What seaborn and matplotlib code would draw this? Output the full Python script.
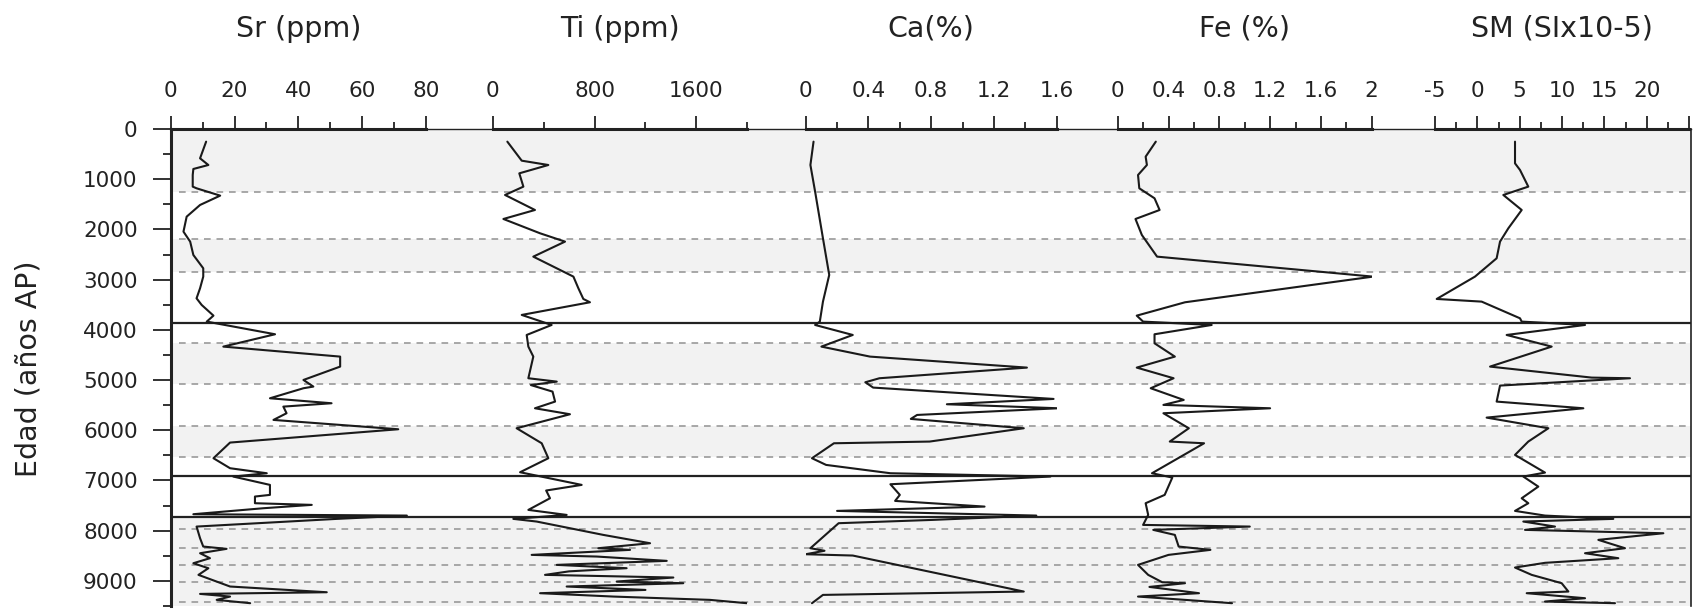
import numpy as np
import pandas as pd
import matplotlib
matplotlib.use("Agg")
import matplotlib.pyplot as plt
from matplotlib.ticker import MultipleLocator, FixedLocator
import seaborn as sns

# ---------------- data ----------------
titles = ["Sr (ppm)", "Ti (ppm)", "Ca(%)", "Fe (%)", "SM (SIx10-5)"]

sr_age = [252, 584, 717, 796, 916, 1148, 1181, 1327, 1513, 1746, 2044, 2243, 2509, 2774, 2940,
          3172, 3372, 3504, 3717, 3836, 4088, 4334, 4533, 4732, 4998, 5130, 5163, 5363, 5462,
          5529, 5661, 5794, 5980, 6245, 6557, 6756, 6856, 6922, 7088, 7287, 7320, 7453, 7486,
          7553, 7672, 7699, 7765, 7918, 8150, 8316, 8362, 8449, 8548, 8648, 8748, 8880, 9112,
          9226, 9259, 9312, 9378, 9444]
sr_val = [11.1, 9.2, 11.8, 7.1, 6.9, 6.9, 8.1, 15.5, 9.2, 5.0, 4.0, 6.1, 7.1, 10.2, 10.2,
          9.2, 8.1, 9.7, 13.4, 11.3, 32.7, 16.5, 53.1, 53.1, 41.6, 44.7, 41.6, 31.1, 50.4,
          35.3, 36.3, 32.2, 71.3, 18.6, 13.4, 18.6, 30.1, 19.6, 31.1, 31.1, 26.4, 26.4, 44.2,
          29.0, 7.1, 74.0, 52.0, 8.1, 9.2, 10.2, 17.5, 9.2, 12.3, 7.1, 11.8, 8.7, 18.6,
          48.9, 9.2, 18.6, 14.4, 24.9]

ti_age = [252, 631, 717, 883, 1148, 1314, 1613, 1792, 2077, 2243, 2542, 2940, 3172, 3385, 3451,
          3703, 3903, 4102, 4334, 4533, 4964, 5031, 5100, 5230, 5429, 5562, 5681, 5960, 6259,
          6557, 6836, 7088, 7200, 7354, 7586, 7686, 7765, 7818, 8084, 8250, 8349, 8382, 8482,
          8515, 8601, 8681, 8747, 8810, 8880, 8933, 9013, 9046, 9112, 9180, 9245, 9312, 9378,
          9444]
ti_val = [115, 228, 437, 209, 241, 97, 332, 84, 372, 568, 319, 634, 673, 712, 764,
          228, 463, 267, 280, 319, 280, 503, 300, 470, 490, 332, 607, 188, 385,
          437, 215, 699, 420, 450, 280, 581, 162, 345, 869, 1236, 830, 1079, 306,
          817, 1367, 503, 1052, 600, 411, 1419, 974, 1497, 581, 1200, 372, 948, 1707,
          1995]

ca_age = [252, 717, 1248, 2177, 2907, 3438, 3836, 3903, 4102, 4334, 4533, 4752, 4964, 5044,
          5150, 5376, 5482, 5562, 5695, 5774, 5960, 6225, 6259, 6557, 6690, 6856, 6922, 7075,
          7287, 7407, 7520, 7606, 7699, 7785, 7851, 8183, 8349, 8400, 8469, 8495, 9212, 9279,
          9444]
ca_val = [0.05, 0.03, 0.06, 0.11, 0.15, 0.11, 0.09, 0.06, 0.30, 0.10, 0.41, 1.41, 0.47, 0.38,
          0.43, 1.58, 0.90, 1.61, 0.71, 0.67, 1.39, 0.79, 0.18, 0.04, 0.13, 0.54, 1.56, 0.54,
          0.60, 0.57, 1.14, 0.20, 1.47, 0.81, 0.21, 0.09, 0.03, 0.12, 0.0, 0.30, 1.39, 0.11,
          0.04]

fe_age = [252, 551, 717, 916, 1181, 1380, 1613, 1792, 2110, 2542, 2940, 3451, 3717, 3836, 3903,
          4088, 4268, 4533, 4752, 4964, 5163, 5396, 5495, 5562, 5661, 5960, 6225, 6259, 6856,
          6942, 7287, 7453, 7686, 7885, 7918, 7984, 8084, 8316, 8382, 8482, 8681, 8880, 9026,
          9046, 9120, 9245, 9312, 9444]
fe_val = [0.30, 0.22, 0.23, 0.16, 0.17, 0.29, 0.33, 0.14, 0.19, 0.31, 2.01, 0.53, 0.15, 0.20, 0.74,
          0.29, 0.29, 0.45, 0.15, 0.44, 0.26, 0.52, 0.36, 1.20, 0.36, 0.56, 0.41, 0.68, 0.27,
          0.43, 0.37, 0.22, 0.24, 0.20, 1.04, 0.28, 0.45, 0.48, 0.73, 0.40, 0.16, 0.24, 0.35,
          0.53, 0.25, 0.64, 0.16, 0.90]

sm_age = [252, 684, 816, 1148, 1314, 1613, 1978, 2243, 2575, 2940, 3385, 3438, 3770, 3836, 3903,
          4102, 4334, 4732, 4951, 4964, 5110, 5429, 5562, 5748, 5960, 6225, 6491, 6843, 6922,
          7122, 7354, 7453, 7606, 7699, 7765, 7818, 7918, 7984, 8051, 8183, 8349, 8449, 8548,
          8640, 8734, 8880, 9046, 9212, 9245, 9345, 9411, 9444]
sm_val = [4.45, 4.45, 5.04, 6.02, 3.07, 5.24, 3.66, 2.68, 2.28, -0.28, -4.8, 0.51, 5.04, 5.24, 12.72,
          3.46, 8.78, 1.5, 13.5, 18.03, 2.68, 2.28, 12.52, 1.1, 8.39, 6.02, 4.45, 7.99, 5.43,
          7.2, 5.24, 6.02, 4.45, 7.99, 16.06, 5.43, 9.17, 5.63, 21.97, 14.29, 17.44, 12.72, 16.65,
          8.0, 4.45, 6.42, 9.96, 10.75, 5.83, 12.72, 7.99, 16.26]

# zone boundaries (ages)
solid_lines = [3857, 6904, 7726]
dashed_lines = [1248, 2197, 2854, 4268, 5084, 5914, 6525, 7972, 8350, 8682, 9014, 9419]
shaded_bands = [(0, 1248), (2197, 2854), (4268, 5084), (5914, 6525), (7726, 9500)]

# axis settings for each panel
x_limits = [(0, 80), (0, 2000), (0, 1.6), (0, 2), (-5, 25)]
major_ticks = [[0, 20, 40, 60, 80], [0, 800, 1600], [0, 0.4, 0.8, 1.2, 1.6],
               [0, 0.4, 0.8, 1.2, 1.6, 2.0], [-5, 0, 5, 10, 15, 20, 25]]
major_labels = [["0", "20", "40", "60", "80"], ["0", "800", "1600"],
                ["0", "0.4", "0.8", "1.2", "1.6"], ["0", "0.4", "0.8", "1.2", "1.6", "2"],
                ["-5", "0", "5", "10", "15", "20", ""]]
minor_ticks = [[10, 30, 50, 70], [400, 1200, 2000], [0.2, 0.6, 1.0, 1.4],
               [0.2, 0.6, 1.0, 1.4, 1.8], [-2.5, 2.5, 7.5, 12.5, 17.5, 22.5]]

series = [(sr_val, sr_age), (ti_val, ti_age), (ca_val, ca_age), (fe_val, fe_age), (sm_val, sm_age)]

# ---------------- figure ----------------
sns.set_theme(style="white")
plt.rcParams["font.family"] = ["DejaVu Sans"]
plt.rcParams["text.color"] = "#222222"

W, H = 1694, 609
fig = plt.figure(figsize=(W / 100, H / 100), dpi=100)

top_px, bot_px = 129, 606
left_px, right_px = 171, 1691
panel_px = [(170.7, 426), (492.7, 747.3), (805.7, 1056.7), (1117.7, 1371.7), (1435, 1689)]

def rect(x0, x1):
    return [x0 / W, (H - bot_px) / H, (x1 - x0) / W, (bot_px - top_px) / H]

frame = fig.add_axes(rect(left_px, right_px))
frame.set_xlim(0, 1)
frame.set_ylim(9500, 0)
frame.set_facecolor("white")
for a, b in shaded_bands:
    frame.axhspan(a, b, color="#f2f2f2", lw=0, zorder=0)
for d in dashed_lines:
    frame.axhline(d, xmin=0.005, color="#9a9a9a", lw=1.2, dashes=(4, 3.5), zorder=1)
for s in solid_lines:
    frame.axhline(s, color="#222222", lw=1.6, zorder=2)
frame.set_xticks([])
frame.yaxis.set_major_locator(MultipleLocator(1000))
frame.yaxis.set_minor_locator(FixedLocator(np.arange(500, 9600, 1000)))
frame.tick_params(axis="y", which="major", direction="out", length=13, width=1.3,
                  labelsize=15.5, pad=11, left=True, colors="#222222")
frame.tick_params(axis="y", which="minor", direction="out", length=6, width=1.3, left=True,
                  colors="#222222")
frame.spines["left"].set_linewidth(2.2)
frame.spines["top"].set_linewidth(1.0)
frame.spines["right"].set_linewidth(1.2)
frame.spines["bottom"].set_visible(False)
for sp in frame.spines.values():
    sp.set_color("#222222")

for i, (vals, ages) in enumerate(series):
    x0, x1 = panel_px[i]
    ax = fig.add_axes(rect(x0, x1))
    ax.patch.set_alpha(0)
    df = pd.DataFrame({"val": vals, "age": ages})
    sns.lineplot(data=df, x="val", y="age", sort=False, estimator=None, color="#1a1a1a",
                 lw=1.5, ax=ax)
    ax.set_xlim(*x_limits[i])
    ax.set_ylim(9500, 0)
    ax.set_xlabel("")
    ax.set_ylabel("")
    ax.set_yticks([])
    ax.xaxis.tick_top()
    ax.set_xticks(major_ticks[i])
    ax.set_xticklabels(major_labels[i])
    ax.set_xticks(minor_ticks[i], minor=True)
    ax.tick_params(axis="x", which="major", direction="out", length=9.5, width=1.3,
                   labelsize=15.5, pad=11, top=True, bottom=False, colors="#222222")
    ax.tick_params(axis="x", which="minor", direction="out", length=5, width=1.3,
                   top=True, bottom=False, colors="#222222")
    for name in ["left", "right", "bottom"]:
        ax.spines[name].set_visible(False)
    ax.spines["top"].set_linewidth(2.2)
    ax.spines["top"].set_color("#222222")
    fig.text(((x0 + x1) / 2) / W, 1 - 28.6 / H, titles[i], ha="center", va="center",
             fontsize=20.5)

fig.text(28 / W, 1 - 369 / H, "Edad (años AP)", rotation=90, ha="center", va="center",
         fontsize=20.5)

fig.savefig("out.png", dpi=100)
